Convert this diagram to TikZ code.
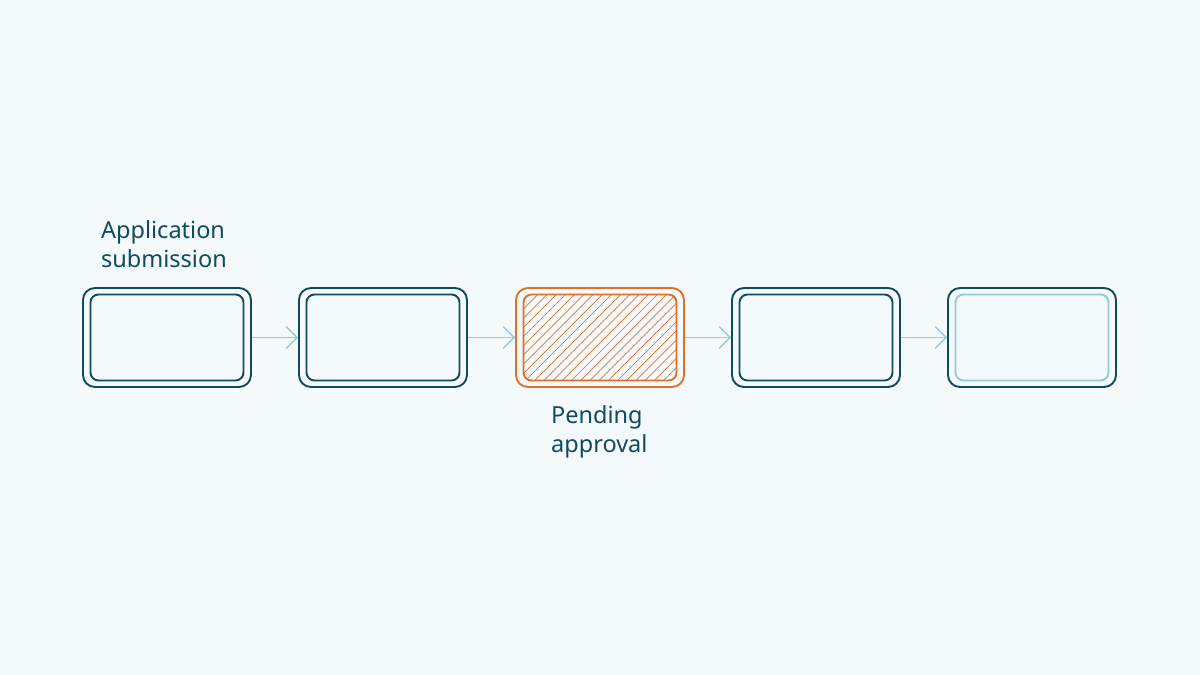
\documentclass[tikz,border=0pt]{standalone}
\usepackage{fontspec}
\setmainfont{Noto Sans}
\usetikzlibrary{arrows.meta}
\definecolor{bg}{HTML}{F4F9FC}
\definecolor{dteal}{HTML}{0F4A5E}
\definecolor{orng}{HTML}{E0702A}
\definecolor{lblue}{HTML}{94CADA}
\tikzset{
  outerbox/.style={draw=dteal, line width=1.9pt, rounded corners=12pt, minimum width=168pt, minimum height=99pt, inner sep=0pt},
  innerbox/.style={draw=dteal, line width=1.9pt, rounded corners=8pt, minimum width=153pt, minimum height=86pt, inner sep=0pt},
  lbl/.style={text=dteal, font=\fontsize{23.5pt}{29pt}\selectfont, align=left, inner sep=0pt},
  flow/.style={draw=lblue, line width=1.4pt, -{Straight Barb[length=11pt, width=22pt, line width=1.4pt]}},
}
\begin{document}
\begin{tikzpicture}[x=1pt,y=1pt]
\fill[bg] (0,0) rectangle (1200,675);
\useasboundingbox (0,0) rectangle (1200,675);
% boxes (y = 675 - pixel y)
\node[outerbox] (b1) at (167,337.5) {};
\node[innerbox] (i1) at (167,337.5) {};
\node[outerbox] (b2) at (383,337.5) {};
\node[innerbox] (i2) at (383,337.5) {};
\node[outerbox, draw=orng] (b3) at (600,337.5) {};
\begin{scope}
  \clip[rounded corners=8pt] (600-76.5,337.5-43) rectangle (600+76.5,337.5+43);
  \foreach \k in {-12,...,30} {
    \draw[orng, line width=0.7pt] (600-76.5-90+\k*9.2,337.5-43) -- ++(90,90);
  }
\end{scope}
\node[innerbox, draw=orng] (i3) at (600,337.5) {};
\node[outerbox] (b4) at (816,337.5) {};
\node[innerbox] (i4) at (816,337.5) {};
\node[outerbox] (b5) at (1032,337.5) {};
\node[innerbox, draw=lblue] (i5) at (1032,337.5) {};
% arrows
\draw[flow] (b1.east) -- (b2.west);
\draw[flow] (b2.east) -- (b3.west);
\draw[flow] (b3.east) -- (b4.west);
\draw[flow] (b4.east) -- (b5.west);
% labels
\node[lbl, anchor=base west] (t1) at (101,675-268) {Application\\submission};
\node[lbl, anchor=base west] (t2) at (551,675-453) {Pending\\approval};
\end{tikzpicture}
\end{document}
